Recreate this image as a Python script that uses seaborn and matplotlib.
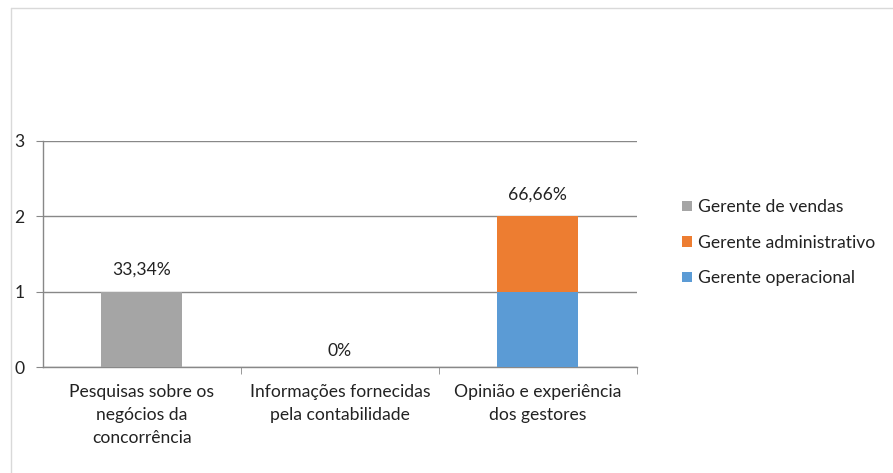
import numpy as np
import matplotlib
matplotlib.use('Agg')
import matplotlib.pyplot as plt
import seaborn as sns
import pandas as pd

# data
categorias = ['Pesquisas sobre os\nnegócios da\nconcorrência',
              'Informações fornecidas\npela contabilidade',
              'Opinião e experiência\ndos gestores']
gerente_operacional = [0, 0, 1]
gerente_administrativo = [0, 0, 1]
gerente_vendas = [1, 0, 0]
rotulos = ['33,34%', '0%', '66,66%']

series = ['Gerente operacional', 'Gerente administrativo', 'Gerente de vendas']
cores = {'Gerente operacional': '#5B9BD5',
         'Gerente administrativo': '#ED7D31',
         'Gerente de vendas': '#A5A5A5'}

sns.set_style('white')
plt.rcParams['font.family'] = ['Lato', 'DejaVu Sans']
fs = 12.6

fig = plt.figure(figsize=(8.93, 4.73), dpi=100)
ax = fig.add_axes([0.048, 0.224, 0.665, 0.478])

# stacked bars drawn as cumulative totals, top layer first
valores = np.array([gerente_operacional, gerente_administrativo, gerente_vendas], dtype=float)
acum = np.cumsum(valores, axis=0)
for i in range(len(series) - 1, -1, -1):
    df = pd.DataFrame({'cat': categorias, 'v': acum[i]})
    sns.barplot(data=df, x='cat', y='v', color=cores[series[i]], width=0.41,
                saturation=1, ax=ax, zorder=3, label=series[i], linewidth=0)

totais = acum[-1]
for i, txt in enumerate(rotulos):
    off = 10 if totais[i] > 0 else 6
    ax.annotate(txt, (i, totais[i]), xytext=(0, off), textcoords='offset points',
                ha='center', va='bottom', fontsize=fs, color='#222222')

ax.set_ylim(0, 3)
ax.set_xlim(-0.5, 2.5)
ax.set_yticks([0, 1, 2, 3])
ax.yaxis.grid(True, color='#888888', linewidth=1, zorder=0)
ax.set_axisbelow(True)
ax.set_xlabel('')
ax.set_ylabel('')
for s in ['top', 'right']:
    ax.spines[s].set_visible(False)
for s in ['left', 'bottom']:
    ax.spines[s].set_color('#888888')
    ax.spines[s].set_linewidth(1)

ax.set_xticks([0, 1, 2])
ax.set_xticklabels(categorias, fontsize=fs, color='#222222', linespacing=1.55)
ax.tick_params(axis='x', length=0, pad=12)
ax.tick_params(axis='y', length=5, color='#888888', labelsize=fs, labelcolor='#222222', left=True, pad=8)
# tick marks between categories
ax.set_xticks([0.5, 1.5, 2.5], minor=True)
ax.tick_params(axis='x', which='minor', length=5, color='#888888', bottom=True)

h, l = ax.get_legend_handles_labels()
ax.legend(h, l, loc='center left', bbox_to_anchor=(1.05, 0.55), frameon=False,
          fontsize=fs, handlelength=0.55, handleheight=0.55, handletextpad=0.35,
          labelspacing=1.12, labelcolor='#222222')

# outer chart border (light)
fig.add_artist(plt.Line2D([0.0123, 1], [0.983, 0.983], color='#d9d9d9', lw=1, transform=fig.transFigure))
fig.add_artist(plt.Line2D([0.0123, 0.0123], [0.0, 0.983], color='#d9d9d9', lw=1, transform=fig.transFigure))

fig.savefig('out.png', dpi=100)
